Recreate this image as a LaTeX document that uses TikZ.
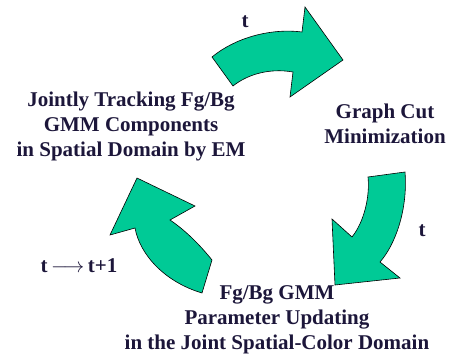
\documentclass[tikz,border=0pt]{standalone}
\usepackage{fontspec}
\setmainfont{LiberationSerif}[
  Extension=.ttf,
  UprightFont=*-Regular,
  BoldFont=*-Bold,
  ItalicFont=*-Italic,
  BoldItalicFont=*-BoldItalic]
\definecolor{flowgreen}{RGB}{0,202,150}
\definecolor{labelink}{RGB}{28,22,58}
\begin{document}
\begin{tikzpicture}[x=1pt,y=-1pt,
  cyclearrow/.style={fill=flowgreen,draw=black,line width=0.6pt,line join=miter},
  stagetext/.style={align=center,text=labelink,font=\fontsize{21}{25}\selectfont\bfseries,inner sep=0pt},
  steptext/.style={text=labelink,font=\fontsize{21}{25}\selectfont\bfseries,inner sep=0pt}]
\useasboundingbox (0,0) rectangle (450,361);

% top arrow: tracking -> graph cut
\draw[cyclearrow] (212,57) .. controls (235,38) and (270,28) .. (302,32)
  -- (305,7) -- (343,60) -- (290,97) -- (293,72)
  .. controls (270,68) and (248,74) .. (233,86) -- cycle;

% right arrow: graph cut -> parameter updating
\draw[cyclearrow] (368,177) .. controls (370,197) and (364,222) .. (352,237)
  -- (332,219) -- (335,285) -- (400,278) -- (380,262)
  .. controls (395,245) and (408,210) .. (405,172) -- cycle;

% left arrow: parameter updating -> tracking
\draw[cyclearrow] (212,260) .. controls (200,245) and (185,230) .. (170,220)
  -- (195,206) -- (137,178) -- (110,235) -- (135,228)
  .. controls (140,255) and (165,282) .. (202,293) -- cycle;

% stages
\node[stagetext] (track) at (131,126) {Jointly Tracking Fg/Bg\\GMM Components\\in Spatial Domain by EM};
\node[stagetext] (cut) at (385,124) {Graph Cut\\Minimization};
\node[stagetext] (update) at (277,320) {Fg/Bg GMM\\Parameter Updating\\in the Joint Spatial-Color Domain};

% step labels
\node[steptext] (ttop) at (245,22) {t};
\node[steptext] (tright) at (422,231) {t};
\node[steptext] (tnext) at (79,266) {t\,$\longrightarrow$\,t+1};
\end{tikzpicture}
\end{document}
